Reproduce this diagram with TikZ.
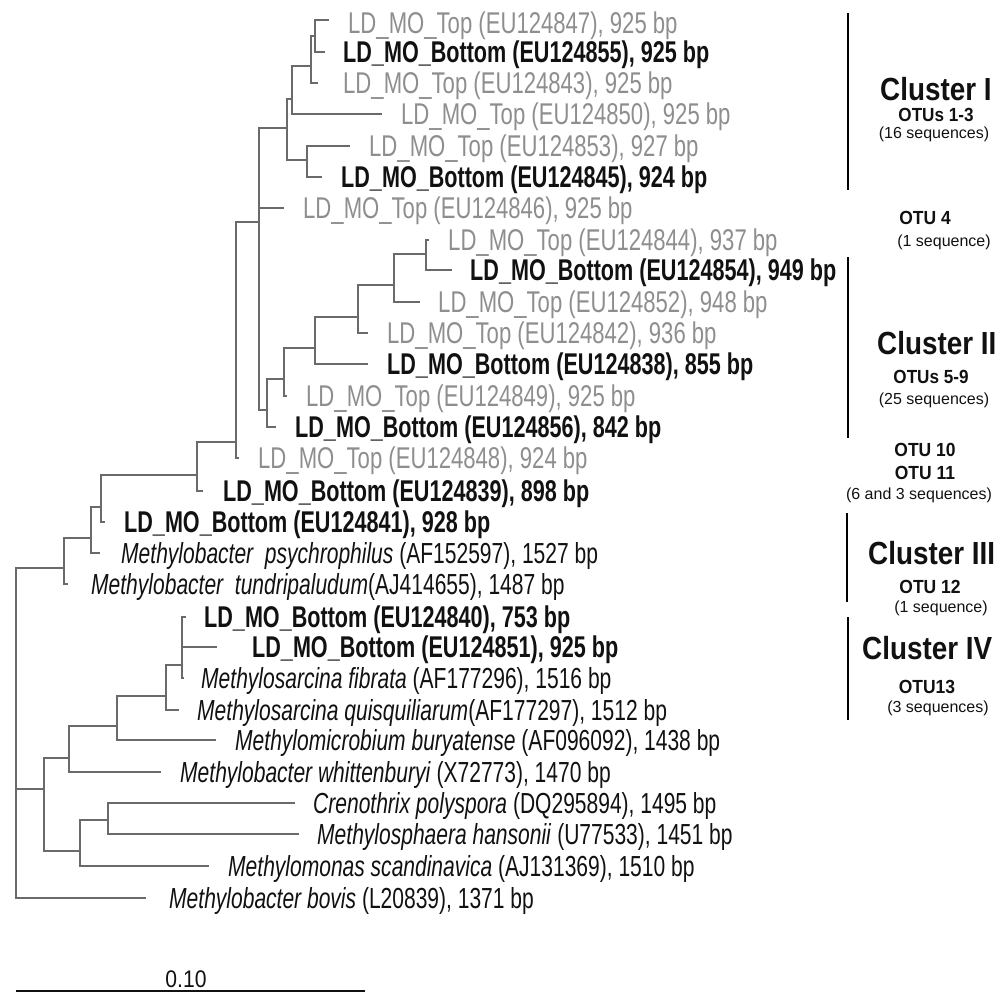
\documentclass[tikz,border=0pt]{standalone}
\usepackage{fontspec}
\setmainfont{Liberation Sans}
\usepackage{graphicx}
\newcommand{\sqz}[2]{\scalebox{#1}[1]{#2}}
\newcommand{\gsq}[1]{\scalebox{0.737}[1]{#1}}
\newcommand{\bsq}[1]{\scalebox{0.72}[1]{#1}}
\newcommand{\ssq}[1]{\scalebox{0.725}[1]{#1}}
\definecolor{treecol}{HTML}{6A6A6A}
\definecolor{greylab}{HTML}{8E8E8E}
\definecolor{darklab}{HTML}{111111}
\tikzset{
  br/.style={draw=treecol, line width=1.6pt},
  clu/.style={draw=black, line width=1.6pt},
  lab/.style={anchor=base west, inner sep=0pt, yshift=-10.7pt, font=\fontsize{30}{30}\selectfont},
  gl/.style={lab, text=greylab},
  bl/.style={lab, text=darklab, font=\fontsize{30}{30}\selectfont\bfseries},
  sp/.style={anchor=base west, inner sep=0pt, yshift=-10.4pt, text=darklab, font=\fontsize{29}{29}\selectfont},
  clname/.style={anchor=west, inner sep=0pt, text=darklab, font=\fontsize{32}{32}\selectfont\bfseries},
  otu/.style={anchor=center, inner sep=0pt, text=darklab, font=\fontsize{19}{19}\selectfont\bfseries},
  seqs/.style={anchor=center, inner sep=0pt, text=darklab, font=\fontsize{16}{16}\selectfont},
}
\begin{document}
\begin{tikzpicture}[x=1pt,y=-1pt]
\useasboundingbox (0,0) rectangle (1008,994);
% ---------- internal nodes (join points) ----------
\coordinate (root) at (16,733);
\coordinate (A0) at (315,36);
\coordinate (A)  at (311,66);
\coordinate (B)  at (292,99);
\coordinate (D)  at (307,160);
\coordinate (C)  at (287,128);
\coordinate (E)  at (259,222);
\coordinate (K0) at (426,254);
\coordinate (K)  at (394,285);
\coordinate (L)  at (358,317);
\coordinate (M)  at (315,348);
\coordinate (N)  at (284,379);
\coordinate (O)  at (267,410);
\coordinate (F)  at (236,442);
\coordinate (G)  at (197,475);
\coordinate (H)  at (101,507);
\coordinate (I)  at (91,538);
\coordinate (J)  at (64,568);
\coordinate (P)  at (182,665);
\coordinate (Q)  at (166,696);
\coordinate (R)  at (117,726);
\coordinate (S)  at (69,758);
\coordinate (V)  at (108,820);
\coordinate (U)  at (80,851);
\coordinate (T)  at (44,789);
% ---------- leaf tips ----------
\coordinate (l847) at (329,20);
\coordinate (l855) at (325,52);
\coordinate (l843) at (318,83);
\coordinate (l850) at (382,114);
\coordinate (l853) at (350,146);
\coordinate (l845) at (322,177);
\coordinate (l846) at (284,208);
\coordinate (l844) at (429,240);
\coordinate (l854) at (452,270);
\coordinate (l852) at (420,302);
\coordinate (l842) at (368,333);
\coordinate (l838) at (368,364);
\coordinate (l849) at (287,396);
\coordinate (l856) at (276,427);
\coordinate (l848) at (239,458);
\coordinate (l839) at (203,491);
\coordinate (l841) at (105,522);
\coordinate (lpsy) at (100,553);
\coordinate (ltun) at (68,584);
\coordinate (l840) at (186,617);
\coordinate (l851) at (217,647);
\coordinate (lfib) at (184,678);
\coordinate (lqui) at (179,710);
\coordinate (lbur) at (216,740);
\coordinate (lwhi) at (161,772);
\coordinate (lcre) at (295,803);
\coordinate (lhan) at (299,834);
\coordinate (lsca) at (209,866);
\coordinate (lbov) at (146,898);
% ---------- branches ----------
\foreach \p/\c in {A0/l847, A0/l855, A/A0, A/l843, B/A, B/l850, D/l853, D/l845,
  C/B, C/D, E/C, E/l846, E/O, K0/l844, K0/l854, K/K0, K/l852, L/K, L/l842,
  M/L, M/l838, N/M, N/l849, O/N, O/l856, F/E, F/l848, G/F, G/l839, H/G, H/l841,
  I/H, I/lpsy, J/I, J/ltun, P/l840, P/l851, P/lfib, Q/P, Q/lqui, R/Q, R/lbur,
  S/R, S/lwhi, V/lcre, V/lhan, U/V, U/lsca, T/S, T/U, root/J, root/T, root/lbov}
  \draw[br] (\p) |- (\c);
% ---------- leaf labels ----------
\node[gl] (t847) at (348,23)  {\gsq{LD\_MO\_Top (EU124847), 925 bp}};
\node[bl] (t855) at (343,52)  {\bsq{LD\_MO\_Bottom (EU124855), 925 bp}};
\node[gl] (t843) at (343,83)  {\gsq{LD\_MO\_Top (EU124843), 925 bp}};
\node[gl] (t850) at (401,114) {\gsq{LD\_MO\_Top (EU124850), 925 bp}};
\node[gl] (t853) at (369,146) {\gsq{LD\_MO\_Top (EU124853), 927 bp}};
\node[bl] (t845) at (341,177) {\bsq{LD\_MO\_Bottom (EU124845), 924 bp}};
\node[gl] (t846) at (303,208) {\gsq{LD\_MO\_Top (EU124846), 925 bp}};
\node[gl] (t844) at (448,240) {\gsq{LD\_MO\_Top (EU124844), 937 bp}};
\node[bl] (t854) at (470,270) {\bsq{LD\_MO\_Bottom (EU124854), 949 bp}};
\node[gl] (t852) at (438,302) {\gsq{LD\_MO\_Top (EU124852), 948 bp}};
\node[gl] (t842) at (387,333) {\gsq{LD\_MO\_Top (EU124842), 936 bp}};
\node[bl] (t838) at (387,364) {\bsq{LD\_MO\_Bottom (EU124838), 855 bp}};
\node[gl] (t849) at (306,396) {\gsq{LD\_MO\_Top (EU124849), 925 bp}};
\node[bl] (t856) at (295,427) {\bsq{LD\_MO\_Bottom (EU124856), 842 bp}};
\node[gl] (t848) at (258,458) {\gsq{LD\_MO\_Top (EU124848), 924 bp}};
\node[bl] (t839) at (223,491) {\bsq{LD\_MO\_Bottom (EU124839), 898 bp}};
\node[bl] (t841) at (124,522) {\bsq{LD\_MO\_Bottom (EU124841), 928 bp}};
\node[sp] (tpsy) at (121,553) {\ssq{\textit{Methylobacter\ \ psychrophilus} (AF152597), 1527 bp}};
\node[sp] (ttun) at (91,584)  {\ssq{\textit{Methylobacter\ \ tundripaludum}(AJ414655), 1487 bp}};
\node[bl] (t840) at (204,617) {\bsq{LD\_MO\_Bottom (EU124840), 753 bp}};
\node[bl] (t851) at (252,647) {\bsq{LD\_MO\_Bottom (EU124851), 925 bp}};
\node[sp] (tfib) at (201,678) {\ssq{\textit{Methylosarcina fibrata} (AF177296), 1516 bp}};
\node[sp] (tqui) at (197,710) {\ssq{\textit{Methylosarcina quisquiliarum}(AF177297), 1512 bp}};
\node[sp] (tbur) at (235,740) {\ssq{\textit{Methylomicrobium buryatense} (AF096092), 1438 bp}};
\node[sp] (twhi) at (180,772) {\ssq{\textit{Methylobacter whittenburyi} (X72773), 1470 bp}};
\node[sp] (tcre) at (313,803) {\ssq{\textit{Crenothrix polyspora} (DQ295894), 1495 bp}};
\node[sp] (than) at (317,834) {\ssq{\textit{Methylosphaera hansonii} (U77533), 1451 bp}};
\node[sp] (tsca) at (228,866) {\ssq{\textit{Methylomonas scandinavica} (AJ131369), 1510 bp}};
\node[sp] (tbov) at (169,898) {\ssq{\textit{Methylobacter bovis} (L20839), 1371 bp}};
% ---------- scale bar ----------
\coordinate (sb1) at (16,991);
\coordinate (sb2) at (365,991);
\draw[draw=darklab, line width=1.8pt] (sb1) -- (sb2);
\node[anchor=center, inner sep=0pt, text=darklab, font=\fontsize{24}{24}\selectfont] (sbl) at (186,979) {\sqz{0.88}{0.10}};
% ---------- cluster brackets ----------
\coordinate (c1a) at (848,13);  \coordinate (c1b) at (848,190);
\coordinate (c2a) at (848,257); \coordinate (c2b) at (848,438);
\coordinate (c3a) at (847,513); \coordinate (c3b) at (847,602);
\coordinate (c4a) at (848,617); \coordinate (c4b) at (848,720);
\draw[clu] (c1a) -- (c1b);
\draw[clu] (c2a) -- (c2b);
\draw[clu] (c3a) -- (c3b);
\draw[clu] (c4a) -- (c4b);
% ---------- cluster texts ----------
\node[clname] (cl1) at (880,89)  {\sqz{0.87}{Cluster I}};
\node[otu]    (o13) at (936,115) {\sqz{0.9}{OTUs 1-3}};
\node[seqs]   (s16) at (934,134) {(16 sequences)};
\node[otu]    (o4)  at (925,218) {\sqz{0.92}{OTU 4}};
\node[seqs]   (s1a) at (944,242) {(1 sequence)};
\node[clname] (cl2) at (877,343) {\sqz{0.87}{Cluster II}};
\node[otu]    (o59) at (931,377) {\sqz{0.9}{OTUs 5-9}};
\node[seqs]   (s25) at (934,400) {(25 sequences)};
\node[otu]    (o10) at (925,450) {\sqz{0.92}{OTU 10}};
\node[otu]    (o11) at (925,473) {\sqz{0.92}{OTU 11}};
\node[seqs]   (s63) at (919,495) {(6 and 3 sequences)};
\node[clname] (cl3) at (868,553) {\sqz{0.87}{Cluster III}};
\node[otu]    (o12) at (930,587) {\sqz{0.92}{OTU 12}};
\node[seqs]   (s1b) at (941,608) {(1 sequence)};
\node[clname] (cl4) at (862,648) {\sqz{0.87}{Cluster IV}};
\node[otu]    (o13b) at (927,687) {\sqz{0.92}{OTU13}};
\node[seqs]   (s3)  at (938,708) {(3 sequences)};
\end{tikzpicture}
\end{document}
